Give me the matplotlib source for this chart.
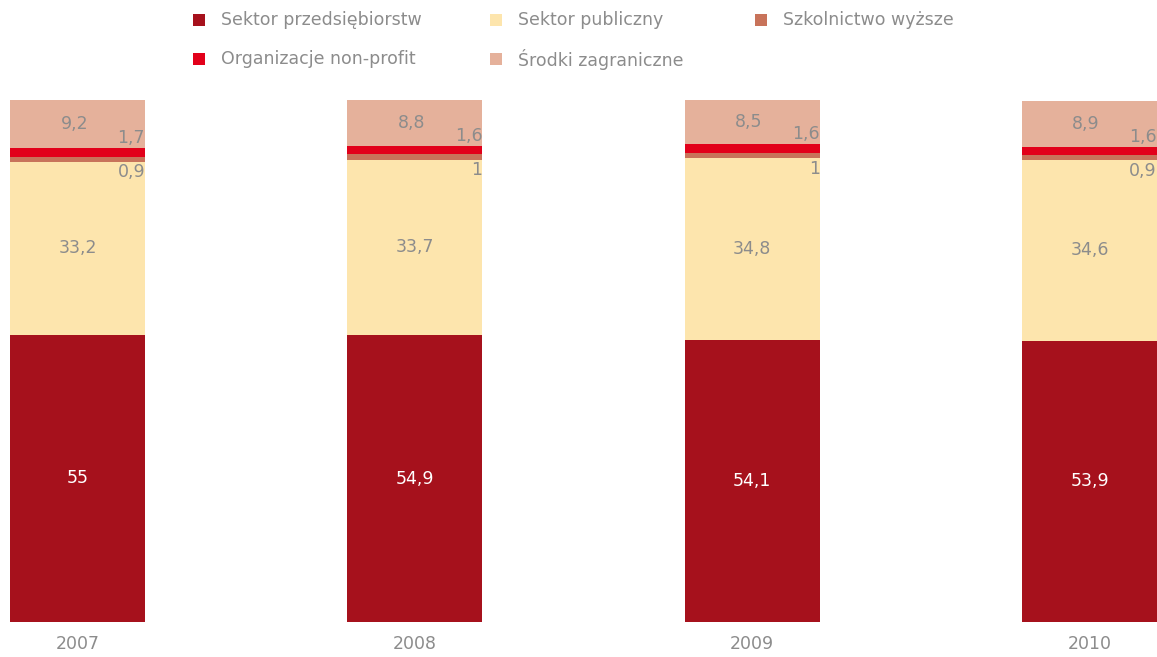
import matplotlib.pyplot as plt
from matplotlib.patches import Rectangle

years = ['2007', '2008', '2009', '2010']
przedsiebiorstw = [55, 54.9, 54.1, 53.9]
publiczny = [33.2, 33.7, 34.8, 34.6]
szkolnictwo = [0.9, 1, 1, 0.9]
non_profit = [1.7, 1.6, 1.6, 1.6]
zagraniczne = [9.2, 8.8, 8.5, 8.9]

names = ['Sektor przedsiębiorstw', 'Sektor publiczny', 'Szkolnictwo wyższe',
         'Organizacje non-profit', 'Środki zagraniczne']
colors = ['#a6111c', '#fde5ad', '#c8735a', '#e2001a', '#e5b19b']
grey = '#8c8c8c'

plt.rcParams['font.family'] = ['DejaVu Sans']

fig = plt.figure(figsize=(11.57, 6.57), dpi=100)
ax = fig.add_axes([0, 35 / 657, 1, 522 / 657])

x = list(range(len(years)))
w = 0.4
series = [przedsiebiorstw, publiczny, szkolnictwo, non_profit, zagraniczne]
bottom = [0.0] * len(years)
bottoms = []
for vals, c in zip(series, colors):
    ax.bar(x, vals, w, bottom=bottom, color=c, linewidth=0)
    bottoms.append(list(bottom))
    bottom = [b + v for b, v in zip(bottom, vals)]

fs = 12.5
def fmt(v):
    s = ('%g' % v).replace('.', ',')
    return s

for i in x:
    # big segments centred
    ax.text(i, bottoms[0][i] + przedsiebiorstw[i] / 2, fmt(przedsiebiorstw[i]),
            ha='center', va='center', color='white', fontsize=fs)
    ax.text(i, bottoms[1][i] + publiczny[i] / 2, fmt(publiczny[i]),
            ha='center', va='center', color=grey, fontsize=fs)
    ax.text(i - 0.01, bottoms[4][i] + zagraniczne[i] / 2, fmt(zagraniczne[i]),
            ha='center', va='center', color=grey, fontsize=fs)
    # thin segments labelled at the right edge
    ax.text(i + w / 2, bottoms[3][i] + non_profit[i] + 0.2, fmt(non_profit[i]),
            ha='right', va='bottom', color=grey, fontsize=fs)
    ax.text(i + w / 2, bottoms[2][i] - 0.3, fmt(szkolnictwo[i]),
            ha='right', va='top', color=grey, fontsize=fs)
    ax.text(i, -4.3, years[i], ha='center', va='center', color=grey,
            fontsize=fs, clip_on=False)

ax.set_xlim(-0.23, 3.2)
ax.set_ylim(0, 100)
ax.axis('off')

# legend drawn by hand in pixel coordinates
W, H = 1157, 657
legend_pos = [(193, 20), (490, 20), (755, 20), (193, 59), (490, 59)]
for (px, py), name, c in zip(legend_pos, names, colors):
    fig.patches.append(Rectangle((px / W, (H - py - 6) / H), 12 / W, 12 / H,
                                 transform=fig.transFigure, color=c, lw=0))
    fig.text((px + 28) / W, (H - py) / H, name, ha='left', va='center',
             color=grey, fontsize=fs)

fig.savefig('out.png', dpi=100)
